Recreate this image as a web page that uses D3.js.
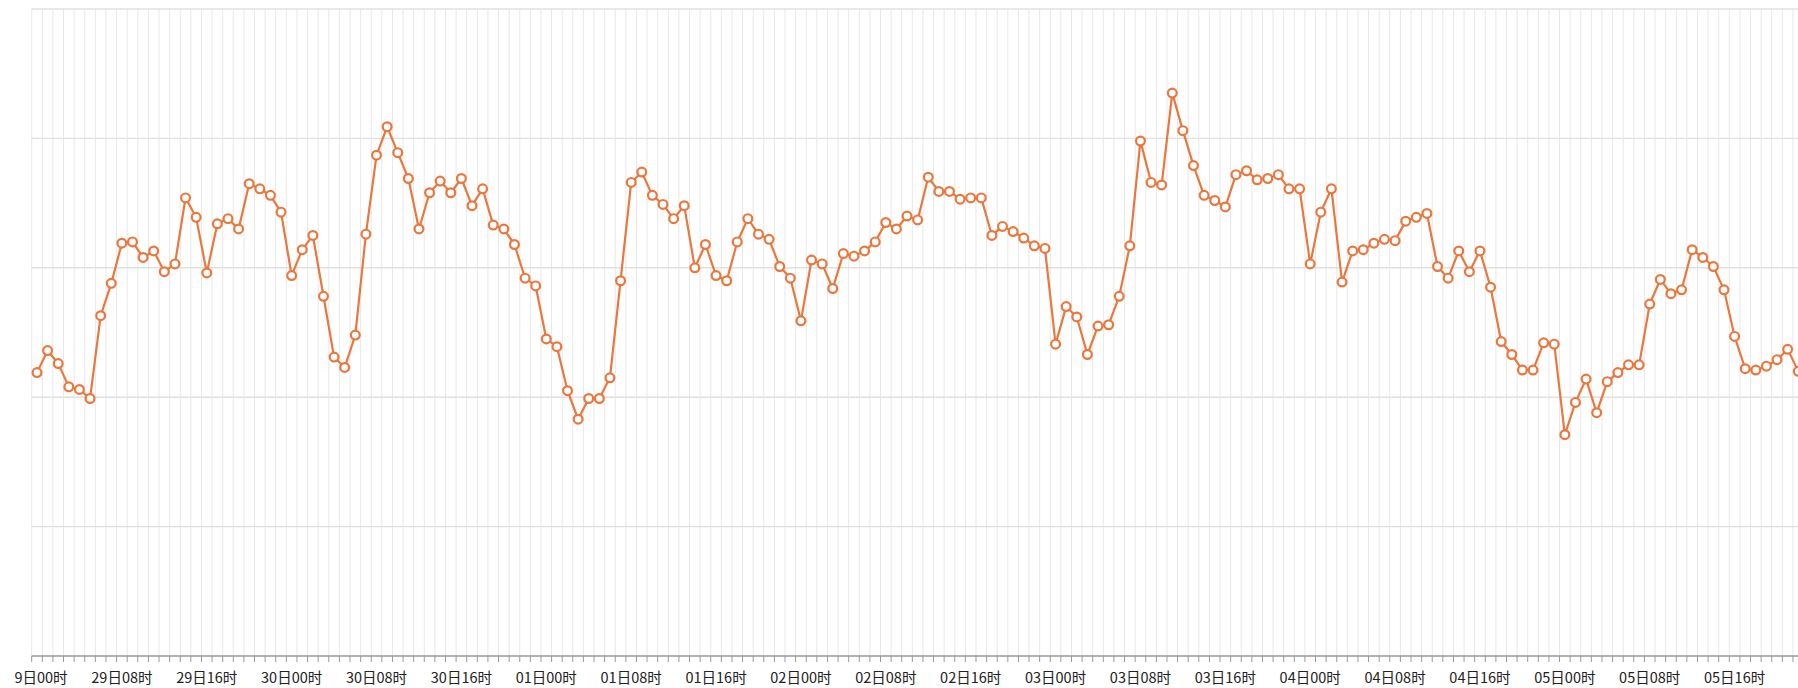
<!DOCTYPE html>
<html>
<head>
<meta charset="utf-8">
<script src="https://cdn.jsdelivr.net/npm/d3@7"></script>
<style>
  html, body { margin: 0; padding: 0; background: #fff; overflow: hidden; }
  svg { display: block; }
</style>
</head>
<body>
<div id="chart"></div>
<script>
// days shown on the axis, one category per hour
var days = ["29", "30", "01", "02", "03", "04", "05"];
var hours = d3.range(24).map(function(h) { return (h < 10 ? "0" : "") + h; });
var labelHours = ["00", "08", "16"];

// hourly values (last hour of 05 is outside the frame)
var values = [
  219, 236, 226, 208, 206, 199, 263, 288, 319, 320, 308, 313, 297, 303, 354, 339, 296, 334, 338, 330, 365, 361, 356, 343,
  294, 314, 325, 278, 231, 223, 248, 326, 387, 409, 389, 369, 330, 358, 367, 358, 369, 348, 361, 333, 330, 318, 292, 286,
  245, 239, 205, 183, 199, 199, 215, 290, 366, 374, 356, 349, 338, 348, 300, 318, 294, 290, 320, 338, 326, 322, 301, 292,
  259, 306, 303, 284, 311, 309, 313, 320, 335, 330, 340, 337, 370, 359, 359, 353, 354, 354, 325, 332, 328, 323, 317, 315,
  241, 270, 262, 233, 255, 256, 278, 317, 398, 366, 364, 435, 406, 379, 356, 352, 347, 372, 375, 368, 369, 372, 361, 361,
  303, 343, 361, 289, 313, 314, 319, 322, 321, 336, 339, 342, 301, 292, 313, 297, 313, 285, 243, 233, 221, 221, 242, 241,
  171, 196, 214, 188, 212, 219, 225, 225, 272, 291, 280, 283, 314, 308, 301, 283, 247, 222, 221, 224, 229, 237, 220
];

var yTicks = [0, 100, 200, 300, 400, 500];

var categories = [];
days.forEach(function(d) {
  hours.forEach(function(h) { categories.push(d + "日" + h + "时"); });
});

var width = 1798, height = 688;
var plotLeft = 31.7, plotTop = 9, plotBottom = 656;
var step = 10.61;
var lineColor = "#ea773d";

var svg = d3.select("#chart")
  .append("svg")
  .attr("width", width)
  .attr("height", height);

var x = d3.scaleBand()
  .domain(categories)
  .range([plotLeft, plotLeft + step * categories.length])
  .padding(0);

var y = d3.scaleLinear()
  .domain([0, 500])
  .range([plotBottom, plotTop]);

// ----------------------------------------------------------
// grid

// vertical lines on every band edge
var edges = categories.map(function(c) { return x(c); });
edges.push(x.range()[1]);

svg.append("g")
  .selectAll("line")
  .data(edges)
  .enter().append("line")
  .attr("x1", function(d) { return d; })
  .attr("x2", function(d) { return d; })
  .attr("y1", plotTop)
  .attr("y2", plotBottom)
  .style("stroke", "#e8e8e8")
  .style("stroke-width", 1);

svg.append("g")
  .selectAll("line")
  .data(yTicks.slice(1))
  .enter().append("line")
  .attr("x1", plotLeft)
  .attr("x2", x.range()[1])
  .attr("y1", function(d) { return y(d); })
  .attr("y2", function(d) { return y(d); })
  .style("stroke", "#e0e0e0")
  .style("stroke-width", 1.4);

// ----------------------------------------------------------
// x axis

svg.append("line")
  .attr("x1", plotLeft)
  .attr("x2", x.range()[1])
  .attr("y1", plotBottom)
  .attr("y2", plotBottom)
  .style("stroke", "#999")
  .style("stroke-width", 1.3);

svg.append("g")
  .selectAll("line")
  .data(edges)
  .enter().append("line")
  .attr("x1", function(d) { return d; })
  .attr("x2", function(d) { return d; })
  .attr("y1", plotBottom)
  .attr("y2", plotBottom + 6)
  .style("stroke", "#999")
  .style("stroke-width", 1);

// the first label is cut at the left edge of the picture
svg.append("clipPath")
  .attr("id", "label-clip")
  .append("rect")
  .attr("x", 14)
  .attr("y", plotBottom)
  .attr("width", width)
  .attr("height", height - plotBottom);

var tickLabels = categories.filter(function(c) {
  return labelHours.indexOf(c.slice(3, 5)) >= 0;
});

svg.append("g")
  .attr("clip-path", "url(#label-clip)")
  .selectAll("text")
  .data(tickLabels)
  .enter().append("text")
  .attr("x", function(d) { return x(d) + x.bandwidth() / 2; })
  .attr("y", 678)
  .attr("dy", ".35em")
  .style("text-anchor", "middle")
  .style("fill", "#222")
  .style("font-size", "14.5px")
  .attr("font-family", "Noto Sans CJK SC, sans-serif")
  .text(function(d) { return d; });

// ----------------------------------------------------------
// series

var points = values.map(function(v, i) { return { cat: categories[i], value: v }; });

var line = d3.line()
  .x(function(d) { return x(d.cat) + x.bandwidth() / 2; })
  .y(function(d) { return y(d.value); });

svg.append("path")
  .datum(points)
  .attr("d", line)
  .style("fill", "none")
  .style("stroke", lineColor)
  .style("stroke-width", 2.2);

svg.append("g")
  .selectAll("circle")
  .data(points)
  .enter().append("circle")
  .attr("cx", function(d) { return x(d.cat) + x.bandwidth() / 2; })
  .attr("cy", function(d) { return y(d.value); })
  .attr("r", 4.4)
  .style("fill", "#fff")
  .style("stroke", lineColor)
  .style("stroke-width", 2.2);
</script>
</body>
</html>
